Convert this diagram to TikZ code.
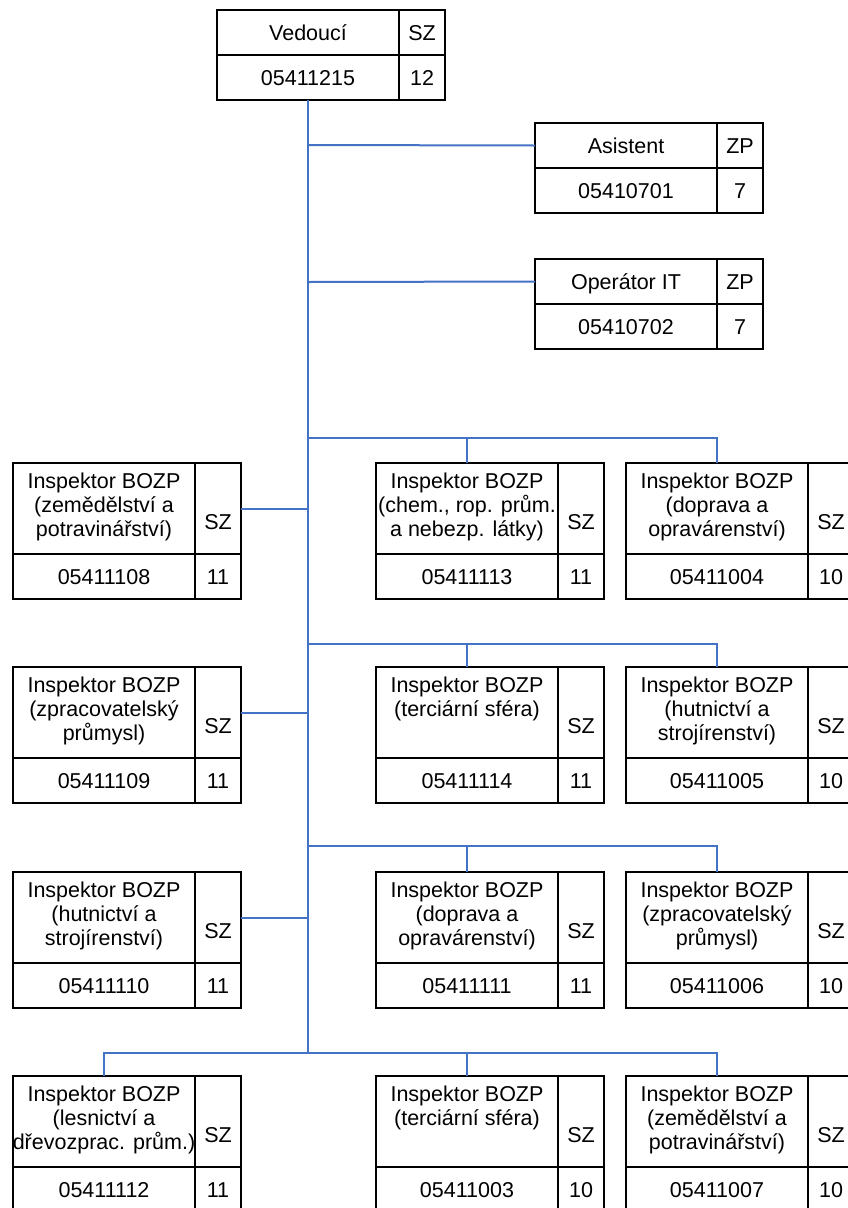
\documentclass[tikz,border=0pt]{standalone}
\usepackage{fontspec}
\setmainfont{Liberation Sans}
\definecolor{linkblue}{RGB}{68,114,196}
\tikzset{
  cell/.style={draw=black, line width=2.2pt, rectangle, anchor=north west, inner sep=0pt, outer sep=0pt,
    font=\fontsize{21.5pt}{24pt}\selectfont, text height=15pt, text depth=0pt},
  txt/.style={inner sep=0pt, outer sep=0pt, align=center, font=\fontsize{21.5pt}{24pt}\selectfont},
  conn/.style={draw=linkblue, line width=2pt}
}
\newcommand{\orgsmall}[7]{%
  \node[cell, minimum width=182pt, minimum height=45pt] (#1) at (#2,#3) {#4};
  \node[cell, minimum width=46pt, minimum height=45pt] (#1-g) at (#1.north east) {#5};
  \node[cell, minimum width=182pt, minimum height=45pt] (#1-n) at (#1.south west) {#6};
  \node[cell, minimum width=46pt, minimum height=45pt] (#1-v) at (#1-n.north east) {#7};
}
\newcommand{\orginsp}[6]{%
  \node[cell, minimum width=182pt, minimum height=91pt] (#1) at (#2,#3) {};
  \node[cell, minimum width=46pt, minimum height=91pt] (#1-g) at (#1.north east) {};
  \node[cell, minimum width=182pt, minimum height=45pt] (#1-n) at (#1.south west) {#5};
  \node[cell, minimum width=46pt, minimum height=45pt] (#1-v) at (#1-n.north east) {#6};
  \node[txt, anchor=north] (#1-t) at ([yshift=-10pt]#1.north) {#4};
  \node[txt] (#1-s) at ([yshift=-59pt]#1-g.north) {SZ};
}
\begin{document}
\begin{tikzpicture}[x=1pt, y=-1pt]
\useasboundingbox (0,0) rectangle (848,1208);
\clip (0,0) rectangle (848,1208);
\fill[white] (0,0) rectangle (848,1208);

% junction coordinates on the trunk
\coordinate (t1) at (308,145);
\coordinate (t2) at (308,282);
\coordinate (b1) at (308,438);
\coordinate (l1) at (308,508.5);
\coordinate (b2) at (308,644);
\coordinate (l2) at (308,712.5);
\coordinate (b3) at (308,846);
\coordinate (l3) at (308,917.5);
\coordinate (b4) at (308,1053);

\orgsmall{top}{217}{10}{Vedoucí}{SZ}{05411215}{12}
\orgsmall{asist}{535}{123}{Asistent}{ZP}{05410701}{7}
\orgsmall{oper}{535}{259}{Operátor IT}{ZP}{05410702}{7}

\orginsp{r1l}{13}{463}{Inspektor BOZP\\(zemědělství a\\potravinářství)}{05411108}{11}
\orginsp{r1m}{376}{463}{Inspektor BOZP\\(chem., rop. prům.\\a nebezp. látky)}{05411113}{11}
\orginsp{r1r}{626}{463}{Inspektor BOZP\\(doprava a\\opravárenství)}{05411004}{10}

\orginsp{r2l}{13}{667}{Inspektor BOZP\\(zpracovatelský\\průmysl)}{05411109}{11}
\orginsp{r2m}{376}{667}{Inspektor BOZP\\(terciární sféra)}{05411114}{11}
\orginsp{r2r}{626}{667}{Inspektor BOZP\\(hutnictví a\\strojírenství)}{05411005}{10}

\orginsp{r3l}{13}{872}{Inspektor BOZP\\(hutnictví a\\strojírenství)}{05411110}{11}
\orginsp{r3m}{376}{872}{Inspektor BOZP\\(doprava a\\opravárenství)}{05411111}{11}
\orginsp{r3r}{626}{872}{Inspektor BOZP\\(zpracovatelský\\průmysl)}{05411006}{10}

\orginsp{r4l}{13}{1076}{Inspektor BOZP\\(lesnictví a\\dřevozprac. prům.)}{05411112}{11}
\orginsp{r4m}{376}{1076}{Inspektor BOZP\\(terciární sféra)}{05411003}{10}
\orginsp{r4r}{626}{1076}{Inspektor BOZP\\(zemědělství a\\potravinářství)}{05411007}{10}

% connectors
\draw[conn] (top-n.south) -- (b4);
\draw[conn] (t1) -- (asist.west);
\draw[conn] (t2) -- (oper.west);
\draw[conn] (b1) -| (r1m.north);
\draw[conn] (b1) -| (r1r.north);
\draw[conn] (r1l-g.east) -- (l1);
\draw[conn] (b2) -| (r2m.north);
\draw[conn] (b2) -| (r2r.north);
\draw[conn] (r2l-g.east) -- (l2);
\draw[conn] (b3) -| (r3m.north);
\draw[conn] (b3) -| (r3r.north);
\draw[conn] (r3l-g.east) -- (l3);
\draw[conn] (b4) -| (r4l.north);
\draw[conn] (b4) -| (r4m.north);
\draw[conn] (b4) -| (r4r.north);
\end{tikzpicture}
\end{document}
